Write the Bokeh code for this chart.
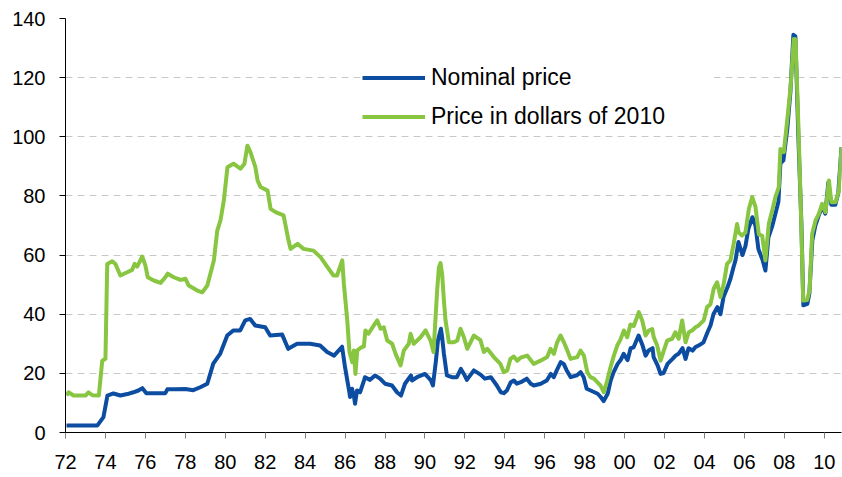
from bokeh.plotting import figure
from bokeh.models import Range1d, FixedTicker, Legend, LegendItem
from bokeh.embed import file_html
from bokeh.resources import INLINE

# ---- data ----
nominal_year = [1972.05, 1973.6, 1973.9, 1974.1, 1974.4, 1974.75, 1975.1, 1975.4, 1975.65, 1975.85,
                1976.05, 1977.0, 1977.1, 1977.5, 1978.0, 1978.4, 1978.75, 1979.1, 1979.4, 1979.75,
                1980.1, 1980.4, 1980.75, 1981.0, 1981.25, 1981.5, 1982.0, 1982.25, 1982.85, 1983.15,
                1983.6, 1984.25, 1984.75, 1985.1, 1985.45, 1985.85, 1986.0, 1986.2, 1986.25, 1986.35,
                1986.45, 1986.5, 1986.6, 1986.75, 1986.95, 1987.0, 1987.25, 1987.5, 1987.75, 1988.0,
                1988.35, 1988.6, 1988.8, 1989.0, 1989.3, 1989.35, 1989.6, 1990.0, 1990.3, 1990.4,
                1990.55, 1990.65, 1990.8, 1990.85, 1990.95, 1991.1, 1991.35, 1991.6, 1991.8, 1991.95,
                1992.1, 1992.45, 1992.8, 1993.0, 1993.3, 1993.6, 1993.8, 1993.95, 1994.1, 1994.3,
                1994.45, 1994.6, 1994.8, 1995.1, 1995.3, 1995.45, 1995.8, 1996.1, 1996.3, 1996.45,
                1996.6, 1996.8, 1996.95, 1997.1, 1997.3, 1997.6, 1997.8, 1997.95, 1998.1, 1998.3,
                1998.65, 1998.8, 1998.95, 1999.15, 1999.3, 1999.45, 1999.65, 1999.8, 1999.95, 2000.15,
                2000.3, 2000.45, 2000.7, 2000.9, 2001.05, 2001.2, 2001.4, 2001.45, 2001.65, 2001.8,
                2001.95, 2002.15, 2002.4, 2002.55, 2002.7, 2002.9, 2003.05, 2003.2, 2003.4, 2003.55,
                2003.7, 2003.95, 2004.15, 2004.3, 2004.45, 2004.65, 2004.8, 2004.95, 2005.15, 2005.3,
                2005.45, 2005.55, 2005.7, 2005.9, 2006.05, 2006.2, 2006.4, 2006.55, 2006.7, 2006.9,
                2007.05, 2007.2, 2007.4, 2007.55, 2007.7, 2007.8, 2007.95, 2008.15, 2008.3, 2008.45,
                2008.55, 2008.7, 2008.85, 2008.95, 2009.15, 2009.25, 2009.4, 2009.55, 2009.7, 2009.9,
                2010.05, 2010.2, 2010.35, 2010.55, 2010.7, 2010.86]
nominal_price = [2.4, 2.4, 5.2, 12.5, 13.2, 12.5, 13.0, 13.6, 14.2, 15.0,
                 13.3, 13.3, 14.6, 14.6, 14.7, 14.3, 15.3, 16.5, 23.3, 26.7,
                 32.8, 34.5, 34.5, 37.9, 38.4, 36.2, 35.6, 32.8, 33.1, 28.3,
                 30.0, 30.0, 29.4, 27.2, 26.0, 29.0, 22.0, 14.2, 12.0, 14.8,
                 12.0, 9.7, 14.2, 13.6, 17.6, 18.7, 17.8, 19.3, 18.2, 16.5,
                 15.9, 13.6, 12.5, 16.5, 19.3, 17.6, 18.7, 19.8, 17.6, 15.9,
                 24.3, 31.1, 35.1, 32.8, 26.6, 19.3, 18.7, 18.7, 21.5, 19.8,
                 17.8, 21.0, 19.5, 18.2, 18.7, 15.9, 13.6, 13.3, 14.2, 17.0,
                 17.6, 16.5, 17.0, 18.2, 16.5, 15.9, 16.5, 17.6, 19.8, 18.7,
                 21.0, 23.8, 23.2, 21.0, 18.7, 19.3, 20.4, 18.7, 14.8, 14.2,
                 13.1, 12.0, 10.6, 13.1, 17.6, 20.4, 23.2, 24.5, 26.6, 24.5,
                 28.5, 28.8, 32.8, 29.4, 26.0, 27.7, 28.5, 25.5, 22.7, 19.8,
                 20.1, 23.2, 24.9, 26.0, 26.6, 28.5, 24.9, 28.5, 27.7, 28.9,
                 29.4, 30.5, 33.9, 36.2, 40.1, 42.4, 40.0, 45.8, 49.1, 52.0,
                 55.9, 58.2, 64.4, 60.0, 63.0, 69.0, 72.8, 70.0, 62.0, 58.5,
                 54.8, 66.0, 70.0, 74.0, 78.0, 91.0, 92.0, 103.0, 115.0, 134.5,
                 134.0, 100.0, 71.0, 43.0, 43.5, 47.0, 65.0, 70.0, 73.0, 76.5,
                 74.0, 84.5, 77.0, 77.0, 81.0, 96.5]

real_year = [1972.05, 1972.15, 1972.4, 1973.0, 1973.15, 1973.35, 1973.67, 1973.84, 1974.0, 1974.09,
             1974.34, 1974.5, 1974.75, 1975.09, 1975.34, 1975.46, 1975.59, 1975.84, 1976.0, 1976.12,
             1976.42, 1976.76, 1977.0, 1977.12, 1977.42, 1977.76, 1978.01, 1978.17, 1978.6, 1978.85,
             1979.1, 1979.43, 1979.6, 1979.76, 1979.93, 1980.11, 1980.41, 1980.76, 1980.96, 1981.11,
             1981.26, 1981.51, 1981.62, 1981.77, 1982.12, 1982.27, 1982.52, 1982.92, 1983.17, 1983.27,
             1983.62, 1983.92, 1984.42, 1984.77, 1985.12, 1985.42, 1985.6, 1985.86, 1985.94, 1986.11,
             1986.22, 1986.36, 1986.44, 1986.52, 1986.61, 1986.77, 1986.94, 1987.02, 1987.17, 1987.44,
             1987.61, 1987.78, 1987.94, 1988.11, 1988.36, 1988.53, 1988.78, 1988.94, 1989.19, 1989.28,
             1989.44, 1989.78, 1990.03, 1990.28, 1990.43, 1990.61, 1990.7, 1990.78, 1990.86, 1990.95,
             1991.03, 1991.2, 1991.45, 1991.62, 1991.78, 1991.95, 1992.12, 1992.45, 1992.78, 1992.95,
             1993.12, 1993.45, 1993.78, 1993.95, 1994.12, 1994.28, 1994.45, 1994.62, 1994.79, 1995.12,
             1995.45, 1995.79, 1996.12, 1996.29, 1996.46, 1996.62, 1996.79, 1996.96, 1997.13, 1997.29,
             1997.63, 1997.79, 1997.96, 1998.13, 1998.29, 1998.46, 1998.63, 1998.79, 1998.96, 1999.13,
             1999.29, 1999.46, 1999.63, 1999.79, 1999.96, 2000.13, 2000.29, 2000.46, 2000.71, 2000.88,
             2001.05, 2001.21, 2001.38, 2001.46, 2001.63, 2001.8, 2001.96, 2002.13, 2002.38, 2002.54,
             2002.71, 2002.88, 2003.05, 2003.21, 2003.38, 2003.55, 2003.71, 2003.96, 2004.13, 2004.3,
             2004.46, 2004.63, 2004.8, 2004.96, 2005.13, 2005.3, 2005.46, 2005.63, 2005.71, 2005.88,
             2006.05, 2006.22, 2006.39, 2006.55, 2006.72, 2006.89, 2007.05, 2007.22, 2007.39, 2007.55,
             2007.72, 2007.8, 2007.97, 2008.14, 2008.31, 2008.47, 2008.56, 2008.72, 2008.84, 2008.94,
             2009.14, 2009.26, 2009.39, 2009.56, 2009.73, 2009.89, 2010.06, 2010.23, 2010.35, 2010.56,
             2010.73, 2010.86]
real_price = [12.5, 13.6, 12.5, 12.5, 13.6, 12.6, 12.5, 24.3, 24.9, 57.0,
              57.9, 57.0, 53.1, 54.2, 55.0, 57.0, 56.1, 59.5, 56.5, 52.5,
              51.4, 50.6, 52.5, 53.7, 52.5, 51.6, 52.0, 49.7, 48.0, 47.4,
              49.7, 58.2, 68.3, 71.7, 78.5, 89.7, 90.9, 89.2, 90.9, 97.0,
              94.8, 89.7, 85.2, 83.0, 81.8, 75.6, 74.5, 73.4, 64.9, 62.1,
              63.8, 62.1, 61.5, 59.3, 55.9, 53.1, 53.1, 58.2, 50.3, 37.9,
              27.2, 23.8, 27.7, 19.8, 27.7, 28.6, 29.1, 34.5, 33.4, 36.2,
              37.9, 35.1, 35.6, 31.1, 30.0, 26.6, 22.7, 27.7, 30.0, 33.4,
              30.0, 32.2, 34.5, 31.1, 27.2, 48.0, 55.9, 57.3, 53.7, 44.6,
              37.9, 30.5, 30.5, 31.1, 35.1, 32.2, 28.3, 32.8, 31.2, 27.2,
              28.3, 25.5, 23.2, 20.4, 21.0, 24.9, 25.7, 24.3, 25.3, 26.0,
              23.2, 24.3, 25.5, 28.3, 26.6, 30.5, 32.8, 30.5, 27.7, 24.9,
              25.5, 27.7, 26.0, 20.4, 18.7, 18.2, 17.0, 15.9, 13.6, 17.6,
              22.0, 26.0, 29.4, 31.4, 34.5, 32.2, 36.5, 36.0, 40.7, 37.9,
              32.8, 34.5, 35.0, 32.2, 29.4, 24.3, 27.7, 31.1, 31.7, 33.9,
              31.7, 37.9, 30.5, 33.9, 34.5, 35.6, 36.2, 37.9, 42.4, 43.4,
              48.6, 50.8, 45.8, 50.2, 57.0, 58.2, 63.8, 70.5, 67.6, 66.6,
              67.6, 75.6, 79.6, 76.4, 67.0, 66.5, 58.2, 70.6, 75.1, 79.6,
              83.0, 95.9, 94.8, 105.5, 116.8, 133.1, 133.0, 99.9, 71.7, 44.6,
              44.8, 48.0, 67.2, 71.7, 74.0, 77.3, 74.5, 85.2, 77.9, 77.9,
              81.8, 96.5]

tick_years = [1972, 1974, 1976, 1978, 1980, 1982, 1984, 1986, 1988, 1990,
              1992, 1994, 1996, 1998, 2000, 2002, 2004, 2006, 2008, 2010]
tick_labels = ["72", "74", "76", "78", "80", "82", "84", "86", "88", "90",
               "92", "94", "96", "98", "00", "02", "04", "06", "08", "10"]
y_ticks = [0, 20, 40, 60, 80, 100, 120, 140]
series_names = ["Nominal price", "Price in dollars of 2010"]

BLUE = "#0C4DA2"
GREEN = "#88C540"
FONT = "Liberation Sans"

p = figure(width=842, height=477,
           x_range=Range1d(1972, 2010.86), y_range=Range1d(0, 140),
           output_backend="svg", toolbar_location=None,
           min_border_left=65, min_border_right=1, min_border_top=18, min_border_bottom=45)
p.outline_line_color = None
p.background_fill_color = "white"
p.border_fill_color = "white"

r_nom = p.line(nominal_year, nominal_price, line_color=BLUE, line_width=4, line_join="round")
r_real = p.line(real_year, real_price, line_color=GREEN, line_width=4, line_join="round")

# grid
p.xgrid.visible = False
p.ygrid.grid_line_color = "#c8c8c8"
p.ygrid.grid_line_dash = "7 5"
p.ygrid.grid_line_width = 1

# y axis
ya = p.yaxis[0]
ya.ticker = FixedTicker(ticks=y_ticks)
ya.axis_line_color = "black"
ya.major_tick_line_color = "black"
ya.major_tick_in = 0
ya.major_tick_out = 6
ya.minor_tick_line_color = None
ya.major_label_standoff = 14
ya.major_label_text_font = FONT
ya.major_label_text_font_size = "20px"
ya.major_label_text_color = "black"

# x axis
xa = p.xaxis[0]
xa.ticker = FixedTicker(ticks=tick_years)
xa.major_label_overrides = {t: l for t, l in zip(tick_years, tick_labels)}
xa.axis_line_color = "black"
xa.major_tick_line_color = "#808080"
xa.major_tick_in = 0
xa.major_tick_out = 6
xa.minor_tick_line_color = None
xa.major_label_standoff = 16
xa.major_label_text_font = FONT
xa.major_label_text_font_size = "20px"
xa.major_label_text_color = "black"
xa.major_label_text_line_height = 1.0

legend = Legend(items=[LegendItem(label=series_names[0], renderers=[r_nom]),
                       LegendItem(label=series_names[1], renderers=[r_real])],
                location=(297, 302), orientation="vertical",
                glyph_width=63, glyph_height=27, label_height=27, label_width=283,
                spacing=12, padding=6, margin=0, label_standoff=6,
                label_text_font=FONT, label_text_font_size="23px", label_text_color="black",
                border_line_color=None, background_fill_color="white", background_fill_alpha=1.0)
p.add_layout(legend, "center")

open("out.html", "w").write(file_html(p, INLINE))
